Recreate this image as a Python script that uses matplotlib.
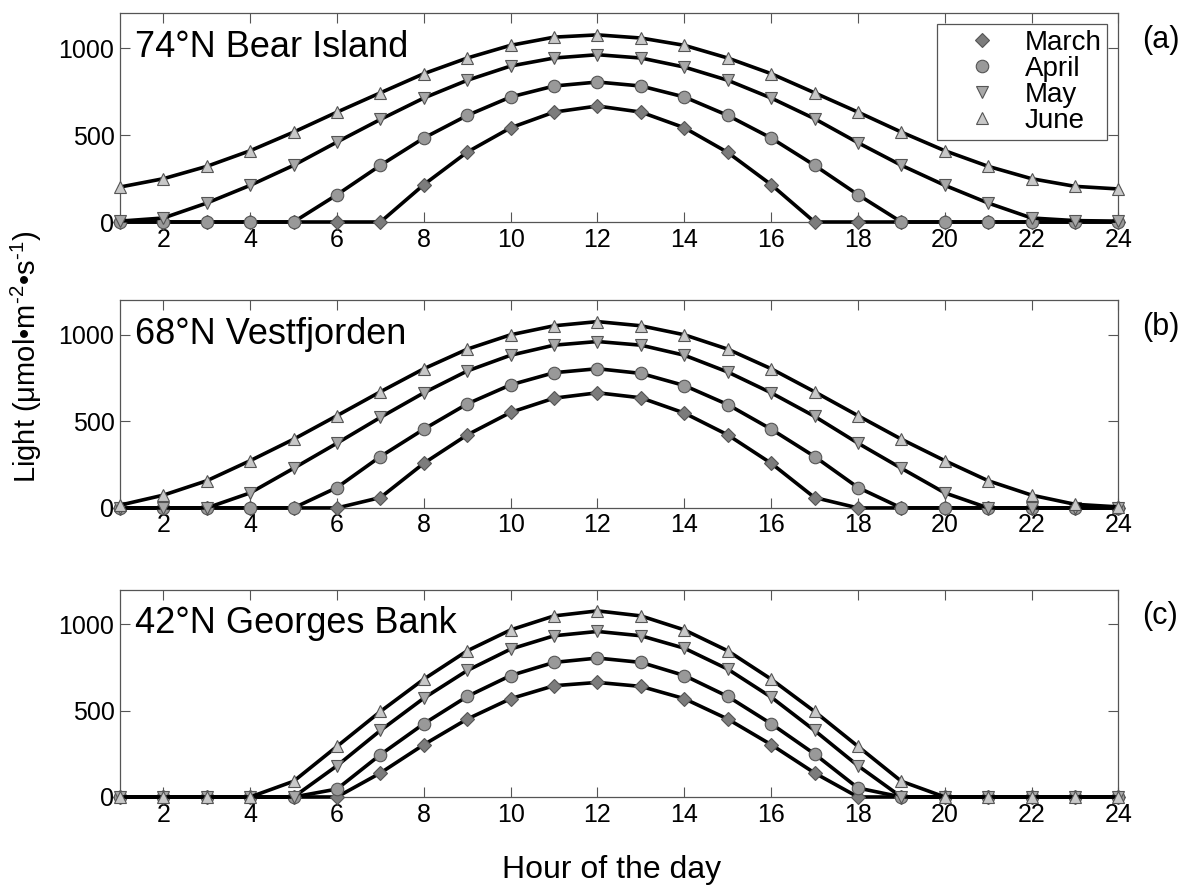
import numpy as np
import matplotlib
matplotlib.use("Agg")
import matplotlib.pyplot as plt

plt.rcParams['font.family'] = ['Liberation Sans', 'DejaVu Sans']
plt.rcParams['mathtext.fontset'] = 'custom'
plt.rcParams['mathtext.rm'] = 'Liberation Sans'
plt.rcParams['mathtext.it'] = 'Liberation Sans'

hours = np.arange(1, 25)
months = ["March", "April", "May", "June"]
markers = ["D", "o", "v", "^"]
colors = ["#7c7c7c", "#999999", "#a8a8a8", "#c8c8c8"]

# 74N Bear Island
bear_march = [0, 0, 0, 0, 0, 0, 0, 215, 402, 542, 632, 667, 632, 542, 400, 215, 0, 0, 0, 0, 0, 0, 0, 0]
bear_april = [0, 0, 0, 0, 0, 157, 326, 483, 613, 719, 782, 805, 782, 719, 613, 483, 326, 157, 0, 0, 0, 0, 0, 0]
bear_may = [5, 23, 109, 211, 326, 460, 590, 713, 815, 897, 943, 962, 943, 891, 815, 713, 594, 456, 326, 211, 109, 23, 8, 5]
bear_june = [201, 249, 320, 410, 517, 632, 743, 853, 943, 1016, 1063, 1076, 1058, 1016, 943, 853, 743, 632, 517, 410, 320, 249, 205, 190]

# 68N Vestfjorden
vest_march = [0, 0, 0, 0, 0, 0, 60, 258, 422, 552, 634, 665, 636, 548, 422, 258, 60, 0, 0, 0, 0, 0, 0, 0]
vest_april = [0, 0, 0, 0, 0, 118, 297, 455, 601, 711, 781, 804, 777, 707, 597, 455, 297, 118, 0, 0, 0, 0, 0, 0]
vest_may = [0, 0, 0, 87, 229, 374, 523, 665, 791, 882, 940, 961, 940, 882, 785, 665, 529, 374, 229, 87, 0, 0, 0, 0]
vest_june = [16, 74, 157, 273, 397, 533, 671, 804, 917, 1000, 1052, 1076, 1052, 1000, 917, 804, 671, 533, 397, 273, 157, 74, 21, 6]

# 42N Georges Bank
geo_march = [0, 0, 0, 0, 0, 0, 139, 303, 451, 569, 644, 663, 640, 569, 451, 303, 139, 0, 0, 0, 0, 0, 0, 0]
geo_april = [0, 0, 0, 0, 0, 46, 245, 424, 582, 703, 779, 804, 779, 703, 582, 424, 249, 52, 0, 0, 0, 0, 0, 0]
geo_may = [0, 0, 0, 0, 0, 181, 385, 572, 732, 856, 933, 958, 933, 861, 740, 578, 385, 181, 0, 0, 0, 0, 0, 0]
geo_june = [0, 0, 0, 0, 91, 293, 495, 682, 846, 967, 1048, 1077, 1048, 967, 846, 682, 495, 293, 91, 0, 0, 0, 0, 0]

panels = [
    ("74\u00b0N Bear Island", "(a)", [bear_march, bear_april, bear_may, bear_june]),
    ("68\u00b0N Vestfjorden", "(b)", [vest_march, vest_april, vest_may, vest_june]),
    ("42\u00b0N Georges Bank", "(c)", [geo_march, geo_april, geo_may, geo_june]),
]

fig = plt.figure(figsize=(12, 8.88), dpi=100)
# [left, bottom, width, height] in figure fraction
boxes = [[0.1, 0.75, 0.832, 0.235],
         [0.1, 0.428, 0.832, 0.234],
         [0.1, 0.1025, 0.832, 0.2335]]

for i, (title, tag, series) in enumerate(panels):
    ax = fig.add_axes(boxes[i])
    for j in range(4):
        ax.plot(hours, series[j], color="black", linewidth=2.6, marker=markers[j],
                markersize=9 if markers[j] != "D" else 7.5, markerfacecolor=colors[j],
                markeredgecolor="#555555", markeredgewidth=0.8, clip_on=False,
                label=months[j], zorder=3 + j)
    ax.set_xlim(1, 24)
    ax.set_ylim(0, 1200)
    ax.set_xticks(np.arange(2, 25, 2))
    ax.set_yticks([0, 500, 1000])
    ax.tick_params(direction="in", top=True, right=True, length=7, width=0.8,
                   labelsize=18, color="#555555", pad=4)
    for sp in ax.spines.values():
        sp.set_color("#555555")
        sp.set_linewidth(0.9)
    ax.text(0.015, 0.835, title, transform=ax.transAxes, fontsize=26,
            va="center", ha="left")
    fig.text(0.967, boxes[i][1] + boxes[i][3] - 0.03, tag, fontsize=22,
             ha="center", va="center")
    if i == 0:
        handles = [plt.Line2D([], [], linestyle="none", marker=markers[j],
                              markersize=9 if markers[j] != "D" else 7.5,
                              markerfacecolor=colors[j], markeredgecolor="#555555",
                              markeredgewidth=0.8) for j in range(4)]
        leg = ax.legend(handles, months, loc="upper right", fontsize=20,
                        fancybox=False, framealpha=1, edgecolor="#555555",
                        borderaxespad=0.4, handletextpad=0.15, labelspacing=0.0,
                        borderpad=0.2, handlelength=2.8)
        leg.get_frame().set_linewidth(0.9)

fig.text(0.022, 0.598, "Light (\u03bcmol\u2022m$^{\u2010 2}$\u2022s$^{\u2010 1}$)", rotation=90,
         fontsize=21, ha="center", va="center")
fig.text(0.51, 0.02, "Hour of the day", fontsize=23, ha="center", va="center")

fig.savefig("out.png", dpi=100)
